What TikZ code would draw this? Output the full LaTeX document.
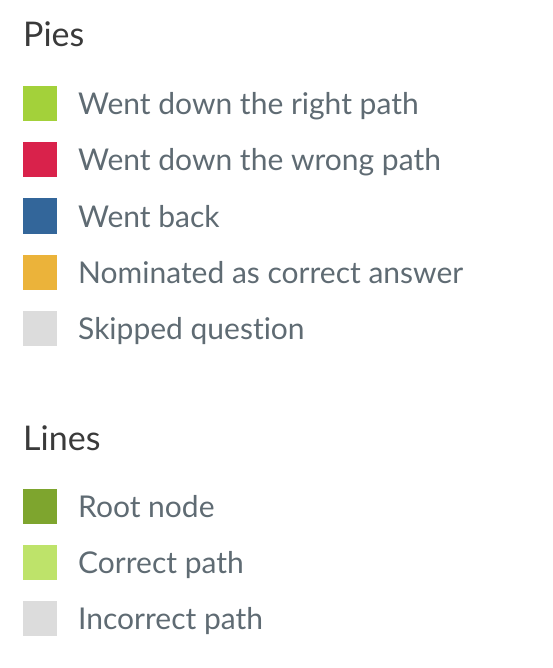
\documentclass[tikz,border=0pt]{standalone}
\usepackage{fontspec}
\setmainfont[Ligatures=NoCommon]{Lato}
\definecolor{rightgreen}{HTML}{A3D13A}
\definecolor{wrongred}{HTML}{D9224B}
\definecolor{backblue}{HTML}{33669A}
\definecolor{nomorange}{HTML}{EBB33A}
\definecolor{skipgrey}{HTML}{DCDCDC}
\definecolor{rootgreen}{HTML}{7EA52E}
\definecolor{pathgreen}{HTML}{BEE36A}
\definecolor{labelgrey}{HTML}{5F6B73}
\definecolor{headgrey}{HTML}{3A3A3A}
\tikzset{
  swatch/.style={minimum width=34pt,minimum height=35pt,inner sep=0pt},
  entry/.style={anchor=base west,inner sep=0pt,text=labelgrey,font=\fontsize{30}{34}\selectfont},
  heading/.style={anchor=base west,inner sep=0pt,text=headgrey,font=\fontsize{34}{38}\selectfont}
}
\begin{document}
\begin{tikzpicture}[x=1pt,y=-1pt]
  \useasboundingbox (0,0) rectangle (552,668);
  % pies
  \node[heading] (pies) at (23,47) {Pies};
  \foreach \col/\txt [count=\i] in {rightgreen/Went down the right path,
      wrongred/Went down the wrong path, backblue/Went back,
      nomorange/Nominated as correct answer, skipgrey/Skipped question}{%
    \node[swatch,fill=\col] (pie\i) at (40,{104+56*(\i-1)}) {};
    \node[entry] (pietxt\i) at (78,{115+56*(\i-1)}) {\txt};
  }
  % lines
  \node[heading] (lines) at (23,450) {Lines};
  \foreach \col/\txt [count=\i] in {rootgreen/Root node,
      pathgreen/Correct path, skipgrey/Incorrect path}{%
    \node[swatch,fill=\col] (line\i) at (40,{506+56*(\i-1)}) {};
    \node[entry] (linetxt\i) at (78,{517+56*(\i-1)}) {\txt};
  }
\end{tikzpicture}
\end{document}
